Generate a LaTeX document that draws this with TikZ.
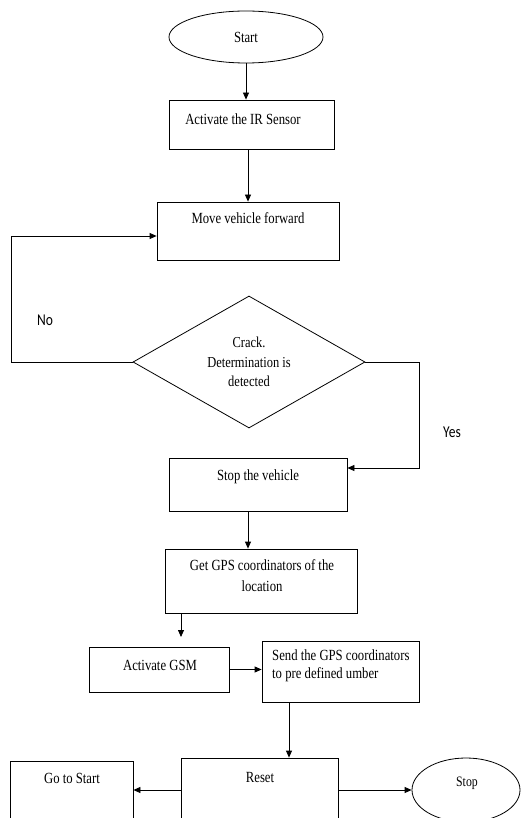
\documentclass[tikz,border=0pt]{standalone}
\usepackage{fontspec}
\setmainfont{Liberation Serif}[FakeStretch=0.82]
\newfontfamily\calib{Carlito}[FakeStretch=0.82]
\usetikzlibrary{shapes.geometric,arrows.meta,calc}
\begin{document}
\begin{tikzpicture}[x=1pt,y=-1pt,
  every node/.style={inner sep=0pt},
  box/.style={draw,line width=0.8pt,rectangle},
  oval/.style={draw,line width=0.8pt,ellipse},
  txt/.style={font=\fontsize{15.5}{18}\selectfont},
  lbl/.style={font=\calib\fontsize{16.5}{19}\selectfont},
  arr/.style={line width=0.8pt,-{Triangle[length=7pt,width=6pt]}},
  ln/.style={line width=0.8pt}]
\useasboundingbox (0,0) rectangle (521,818);
\clip (0,0) rectangle (521,818);
% shapes
\node[oval,minimum width=154pt,minimum height=52pt,txt] (start) at (246,37) {Start};
\node[box,minimum width=165pt,minimum height=49pt] (act) at (251.5,124.5) {};
\node[box,minimum width=182pt,minimum height=58pt] (move) at (248,231) {};
\node[draw,line width=0.8pt,diamond,shape aspect=1.76,minimum width=232pt,minimum height=132pt,align=center,font=\fontsize{15.2}{19.5}\selectfont] (dec) at (249,362) {Crack.\\Determination is\\detected};
\node[box,minimum width=178pt,minimum height=53pt] (stopv) at (258,484.5) {};
\node[box,minimum width=192pt,minimum height=64pt] (gps) at (261,581) {};
\node[box,minimum width=140pt,minimum height=45pt] (gsm) at (159,669.5) {};
\node[box,minimum width=157pt,minimum height=61pt] (send) at (340.5,671.5) {};
\node[box,minimum width=157pt,minimum height=82pt] (reset) at (259.5,799) {};
\node[box,minimum width=123pt,minimum height=79pt] (goto) at (71.5,800.5) {};
\node[oval,minimum width=108pt,minimum height=64pt] (stop) at (466,790) {};
% texts
\node[txt] (tact) at (243,119) {Activate the IR Sensor};
\node[txt] (tmove) at (248,218) {Move vehicle forward};
\node[txt] (tstopv) at (258,477) {Stop the vehicle};
\node[txt,align=center,font=\fontsize{15.5}{21}\selectfont] (tgps) at (262,575.5) {Get GPS coordinators of the\\location};
\node[txt] (tgsm) at (160,665) {Activate GSM};
\node[txt,align=left,anchor=west,font=\fontsize{15.5}{18}\selectfont] (tsend) at (272,666) {Send the GPS coordinators\\to pre defined umber};
\node[txt] (treset) at (260,777) {Reset};
\node[txt] (tgoto) at (72,778) {Go to Start};
\node[font=\fontsize{14.4}{17}\selectfont] (tstop) at (467,783) {Stop};
\node[lbl] (no) at (45,320) {No};
\node[lbl] (yes) at (452,432) {Yes};
% helper coordinates
\coordinate (nl) at (11,362);
\coordinate (nt) at (11,236);
\coordinate (yr1) at (419,362);
\coordinate (yr2) at (419,468);
\coordinate (g1) at (181,637);
\coordinate (sr) at (289,0);
\coordinate (ry) at (0,790);
% connectors
\draw[arr] (start.south) -- (start.south |- act.north);
\draw[arr] (move.north |- act.south) -- (move.north);
\draw[arr] (dec.west) -- (nl) -- (nt) -- (nt -| move.west);
\draw[arr] (dec.east) -- (yr1) -- (yr2) -- (yr2 -| stopv.east);
\draw[arr] (stopv.south -| move.south) -- (gps.north -| move.south);
\draw[arr] (gps.south -| g1) -- (g1);
\draw[arr] (gsm.east) -- (gsm.east -| send.west);
\draw[arr] (send.south -| sr) -- (reset.north -| sr);
\draw[arr] (reset.west |- ry) -- (goto.east |- ry);
\draw[arr] (reset.east |- ry) -- (stop.west);
\end{tikzpicture}
\end{document}
